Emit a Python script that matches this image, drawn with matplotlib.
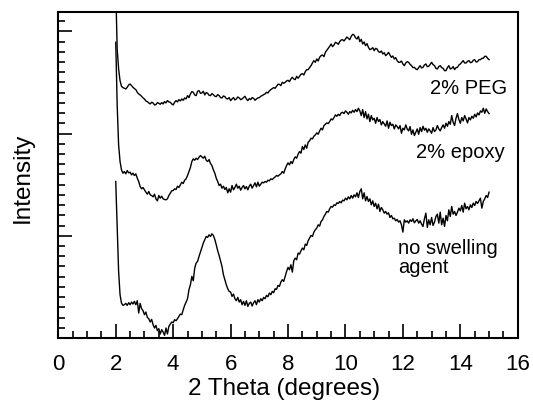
import numpy as np
import matplotlib
matplotlib.use('Agg')
import matplotlib.pyplot as plt
from matplotlib.ticker import MultipleLocator

# 2 theta sampling (degrees)
two_theta = np.round(np.arange(2.0, 15.001, 0.05), 2)

# intensities (arbitrary units), one row per degree
peg = [
    1050, 868, 808, 773, 756, 752, 750, 748, 753, 760, 763, 758, 753, 749, 746, 738, 733, 730, 726, 721,
    718, 712, 710, 706, 703, 708, 706, 700, 701, 707, 705, 702, 707, 703, 710, 706, 713, 709, 708, 703,
    700, 708, 713, 709, 716, 712, 718, 714, 721, 718, 728, 722, 733, 740, 738, 730, 728, 741, 743, 735,
    736, 741, 730, 737, 735, 729, 728, 734, 731, 726, 725, 731, 728, 722, 721, 727, 725, 719, 718, 722,
    713, 718, 722, 715, 718, 724, 721, 716, 718, 722, 726, 718, 713, 719, 716, 722, 720, 714, 718, 721,
    722, 726, 728, 731, 733, 738, 736, 742, 746, 749, 752, 750, 756, 762, 762, 758, 768, 765, 768, 772,
    774, 770, 778, 783, 778, 776, 786, 780, 786, 792, 794, 790, 800, 806, 806, 812, 818, 826, 833, 828,
    838, 832, 843, 848, 850, 845, 858, 864, 870, 876, 883, 875, 880, 888, 886, 882, 890, 895, 896, 892,
    898, 904, 900, 896, 906, 912, 910, 902, 898, 906, 890, 897, 883, 889, 878, 884, 873, 866, 868, 872,
    863, 870, 868, 860, 858, 862, 853, 857, 848, 852, 858, 850, 843, 847, 838, 842, 833, 828, 828, 832,
    823, 818, 826, 830, 828, 822, 818, 812, 813, 808, 806, 812, 818, 811, 813, 820, 823, 815, 816, 822,
    828, 821, 818, 810, 808, 815, 818, 812, 810, 803, 803, 812, 818, 808, 810, 815, 806, 812, 813, 820,
    823, 828, 833, 826, 826, 831, 833, 827, 828, 834, 836, 829, 830, 836, 836, 840, 840, 846, 846, 840,
    836,
]

epoxy = [
    888, 700, 580, 530, 505, 495, 500, 493, 503, 496, 498, 490, 495, 488, 493, 480, 470, 455, 448, 452,
    445, 438, 432, 440, 430, 428, 424, 432, 418, 412, 428, 420, 426, 418, 416, 415, 418, 428, 435, 442,
    443, 448, 446, 456, 452, 460, 468, 464, 474, 478, 488, 500, 512, 530, 538, 534, 540, 536, 543, 548,
    544, 540, 546, 534, 530, 536, 524, 518, 505, 495, 480, 470, 458, 462, 450, 456, 446, 452, 436, 448,
    438, 458, 445, 452, 462, 450, 456, 444, 452, 458, 448, 455, 445, 456, 462, 450, 458, 466, 454, 468,
    456, 462, 468, 466, 470, 468, 474, 472, 478, 476, 480, 484, 488, 486, 490, 493, 500, 495, 508, 518,
    526, 520, 530, 524, 536, 544, 540, 552, 560, 555, 575, 566, 580, 570, 588, 592, 600, 598, 606, 610,
    616, 612, 622, 630, 625, 638, 642, 646, 644, 650, 658, 655, 662, 670, 666, 672, 668, 676, 678, 674,
    682, 678, 672, 680, 676, 684, 678, 686, 680, 690, 682, 668, 686, 662, 680, 658, 672, 650, 668, 655,
    660, 645, 662, 650, 656, 640, 650, 643, 636, 652, 630, 648, 638, 642, 628, 640, 635, 628, 638, 615,
    630, 625, 640, 628, 622, 635, 612, 625, 608, 618, 628, 612, 632, 620, 636, 624, 630, 618, 628, 622,
    615, 632, 620, 625, 638, 628, 622, 632, 640, 630, 645, 636, 650, 642, 668, 648, 638, 660, 674, 656,
    645, 662, 652, 668, 658, 646, 662, 655, 666, 660, 672, 664, 676, 670, 682, 678, 690, 675, 688, 680,
    674,
]

no_agent = [
    470, 330, 200, 130, 105, 98, 100, 104, 98, 106, 100, 108, 102, 110, 100, 112, 75, 104, 88, 82,
    70, 78, 62, 58, 48, 56, 40, 30, 38, 22, 28, 12, 25, 18, 8, 30, 12, 35, 42, 48,
    46, 55, 52, 58, 65, 72, 70, 85, 98, 108, 118, 145, 160, 185, 172, 210, 225, 230, 245, 258,
    270, 285, 295, 305, 302, 310, 305, 313, 308, 296, 280, 262, 248, 232, 215, 190, 175, 160, 148, 140,
    138, 125, 132, 118, 112, 122, 108, 115, 100, 110, 98, 112, 95, 104, 108, 96, 106, 112, 100, 115,
    108, 118, 112, 122, 118, 128, 124, 135, 130, 140, 136, 148, 146, 158, 155, 168, 175, 170, 185, 200,
    212, 205, 220, 198, 232, 240, 235, 255, 252, 262, 270, 265, 282, 278, 292, 300, 308, 305, 318, 325,
    330, 340, 336, 350, 355, 365, 372, 380, 378, 388, 395, 393, 400, 398, 406, 404, 410, 406, 414, 412,
    420, 415, 424, 418, 428, 420, 430, 424, 436, 422, 440, 448, 418, 436, 412, 425, 410, 418, 400, 412,
    395, 405, 388, 402, 380, 392, 385, 375, 380, 372, 376, 362, 368, 358, 360, 352, 356, 348, 352, 340,
    318, 355, 348, 352, 345, 355, 350, 358, 346, 352, 356, 345, 352, 342, 335, 358, 375, 332, 355, 340,
    362, 338, 348, 365, 372, 345, 378, 340, 360, 335, 368, 352, 385, 365, 395, 372, 380, 368, 378, 390,
    382, 398, 378, 405, 388, 395, 385, 400, 392, 405, 398, 410, 404, 412, 420, 390, 410, 418, 428, 422,
    438,
]

labels = ['2% PEG', '2% epoxy', 'no swelling\nagent']

plt.rcParams['font.family'] = ['Liberation Sans', 'DejaVu Sans']

fig = plt.figure(figsize=(5.33, 4.02), dpi=100)
ax = fig.add_axes([0.1094, 0.1567, 0.862, 0.8117])

for series in (peg, epoxy, no_agent):
    ax.plot(two_theta, series, color='black', lw=1.0)

ax.set_xlim(0, 16)
ax.set_ylim(0, 980)

ax.xaxis.set_major_locator(MultipleLocator(2))
ax.xaxis.set_minor_locator(MultipleLocator(0.5))
ax.yaxis.set_major_locator(MultipleLocator(307))
ax.yaxis.set_minor_locator(MultipleLocator(30.7))

ax.tick_params(which='both', direction='in', top=False, right=False, width=1.2)
ax.tick_params(which='major', length=10)
ax.tick_params(which='minor', length=5)
ax.tick_params(axis='x', labelsize=16, pad=11)
ax.tick_params(axis='y', labelleft=False)
for sp in ax.spines.values():
    sp.set_linewidth(1.5)

# curve labels
ax.text(15.63, 751, labels[0], ha='right', va='center', fontsize=14.5)
ax.text(15.56, 559, labels[1], ha='right', va='center', fontsize=14.5)
ax.text(11.83, 243, labels[2], ha='left', va='center', fontsize=14.5, linespacing=1.0)

ax.set_xlabel('2 Theta (degrees)', fontsize=17.5)
ax.xaxis.set_label_coords(0.492, -0.172)
ax.xaxis.label.set_va('baseline')
ax.set_ylabel('Intensity', fontsize=17.5)
ax.yaxis.set_label_coords(-0.077, 0.493)
ax.yaxis.label.set_va('center')

fig.savefig('out.png', dpi=100)
